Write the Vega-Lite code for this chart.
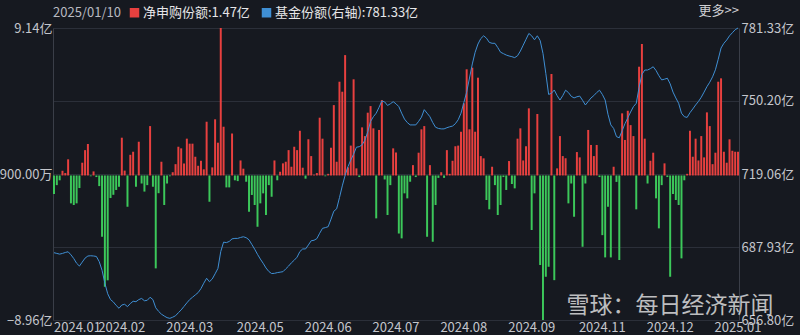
{
  "$schema": "https://vega.github.io/schema/vega-lite/v6.json",
  "width": 686,
  "height": 292,
  "autosize": {"type": "none"},
  "padding": {"left": 53, "top": 28, "right": 61, "bottom": 15},
  "background": "#161920",
  "config": {
    "font": "Noto Sans CJK SC",
    "view": {"stroke": null},
    "axis": {"labelFontSize": 13, "labelColor": "#c4c6cc", "ticks": false, "labelFont": "Noto Sans CJK SC"}
  },
  "title": {"text": "更多>>", "anchor": "end", "frame": "group", "orient": "top", "offset": 2, "dy": 14, "fontSize": 13, "fontWeight": "normal", "color": "#cfd0d4", "font": "Noto Sans CJK SC"},
  "data": {"values": [
    {"date": "2024-01-10", "net": -1.15, "share": 685.5},
    {"date": "2024-01-11", "net": -0.6, "share": 685.2},
    {"date": "2024-01-12", "net": -0.3, "share": 684.9},
    {"date": "2024-01-15", "net": 0.29, "share": 685.2},
    {"date": "2024-01-16", "net": 0.15, "share": 685.6},
    {"date": "2024-01-17", "net": 1.0, "share": 685.9},
    {"date": "2024-01-18", "net": -1.73, "share": 684.6},
    {"date": "2024-01-19", "net": -1.83, "share": 683.0},
    {"date": "2024-01-22", "net": -1.73, "share": 681.0},
    {"date": "2024-01-23", "net": -0.78, "share": 679.8},
    {"date": "2024-01-24", "net": 0.79, "share": 681.5},
    {"date": "2024-01-25", "net": 1.57, "share": 683.2},
    {"date": "2024-01-26", "net": 1.95, "share": 684.1},
    {"date": "2024-01-29", "net": -0.05, "share": 684.2},
    {"date": "2024-01-30", "net": 0.25, "share": 684.1},
    {"date": "2024-01-31", "net": -0.1, "share": 683.9},
    {"date": "2024-02-01", "net": -0.66, "share": 681.7},
    {"date": "2024-02-02", "net": -3.8, "share": 678.0},
    {"date": "2024-02-05", "net": -6.9, "share": 672.5},
    {"date": "2024-02-06", "net": -6.5, "share": 668.0},
    {"date": "2024-02-07", "net": -1.4, "share": 665.5},
    {"date": "2024-02-08", "net": -1.2, "share": 664.5},
    {"date": "2024-02-19", "net": -0.9, "share": 663.0},
    {"date": "2024-02-20", "net": -0.7, "share": 661.8},
    {"date": "2024-02-21", "net": 2.34, "share": 663.2},
    {"date": "2024-02-22", "net": 0.3, "share": 663.5},
    {"date": "2024-02-23", "net": -1.94, "share": 662.5},
    {"date": "2024-02-26", "net": 1.28, "share": 663.8},
    {"date": "2024-02-27", "net": 1.47, "share": 664.8},
    {"date": "2024-02-28", "net": -0.7, "share": 664.6},
    {"date": "2024-02-29", "net": 2.09, "share": 665.5},
    {"date": "2024-03-01", "net": -0.5, "share": 666.0},
    {"date": "2024-03-04", "net": -1.0, "share": 665.0},
    {"date": "2024-03-05", "net": -0.6, "share": 665.2},
    {"date": "2024-03-06", "net": 3.06, "share": 666.5},
    {"date": "2024-03-07", "net": -0.7, "share": 665.5},
    {"date": "2024-03-08", "net": -5.76, "share": 662.0},
    {"date": "2024-03-11", "net": -1.1, "share": 660.5},
    {"date": "2024-03-12", "net": 0.85, "share": 659.3},
    {"date": "2024-03-13", "net": -1.83, "share": 658.5},
    {"date": "2024-03-14", "net": -0.5, "share": 657.8},
    {"date": "2024-03-15", "net": -0.05, "share": 657.5},
    {"date": "2024-03-18", "net": 0.2, "share": 658.0},
    {"date": "2024-03-19", "net": 0.7, "share": 658.6},
    {"date": "2024-03-20", "net": 1.78, "share": 659.9},
    {"date": "2024-03-21", "net": 1.68, "share": 661.1},
    {"date": "2024-03-22", "net": 0.74, "share": 662.6},
    {"date": "2024-03-25", "net": 2.28, "share": 664.1},
    {"date": "2024-03-26", "net": 1.97, "share": 665.5},
    {"date": "2024-03-27", "net": 1.97, "share": 666.5},
    {"date": "2024-03-28", "net": 1.16, "share": 667.5},
    {"date": "2024-03-29", "net": 0.6, "share": 668.5},
    {"date": "2024-04-01", "net": 0.91, "share": 670.2},
    {"date": "2024-04-02", "net": 0.38, "share": 672.5},
    {"date": "2024-04-03", "net": 3.33, "share": 674.6},
    {"date": "2024-04-08", "net": -1.63, "share": 673.1},
    {"date": "2024-04-09", "net": 0.5, "share": 674.3},
    {"date": "2024-04-10", "net": 3.48, "share": 676.5},
    {"date": "2024-04-11", "net": 2.03, "share": 678.8},
    {"date": "2024-04-12", "net": 9.14, "share": 686.0},
    {"date": "2024-04-15", "net": 3.02, "share": 690.0},
    {"date": "2024-04-16", "net": -0.74, "share": 689.8},
    {"date": "2024-04-17", "net": -0.74, "share": 690.3},
    {"date": "2024-04-18", "net": 2.6, "share": 691.4},
    {"date": "2024-04-19", "net": -0.3, "share": 691.6},
    {"date": "2024-04-22", "net": -0.35, "share": 691.6},
    {"date": "2024-04-23", "net": 0.93, "share": 692.0},
    {"date": "2024-04-24", "net": 0.42, "share": 692.3},
    {"date": "2024-04-25", "net": -0.39, "share": 691.9},
    {"date": "2024-04-26", "net": -2.25, "share": 691.0},
    {"date": "2024-04-29", "net": -1.21, "share": 689.0},
    {"date": "2024-04-30", "net": -1.83, "share": 687.0},
    {"date": "2024-05-06", "net": -3.18, "share": 684.8},
    {"date": "2024-05-07", "net": -1.73, "share": 682.8},
    {"date": "2024-05-08", "net": -1.11, "share": 681.0},
    {"date": "2024-05-09", "net": -2.45, "share": 679.0},
    {"date": "2024-05-10", "net": -0.6, "share": 677.5},
    {"date": "2024-05-13", "net": -1.32, "share": 676.6},
    {"date": "2024-05-14", "net": 0.93, "share": 676.7},
    {"date": "2024-05-15", "net": -0.3, "share": 677.0},
    {"date": "2024-05-16", "net": 0.23, "share": 677.2},
    {"date": "2024-05-17", "net": 0.75, "share": 677.4},
    {"date": "2024-05-20", "net": 0.85, "share": 678.6},
    {"date": "2024-05-21", "net": 1.57, "share": 679.8},
    {"date": "2024-05-22", "net": 0.54, "share": 681.2},
    {"date": "2024-05-23", "net": 1.78, "share": 682.3},
    {"date": "2024-05-24", "net": 1.57, "share": 683.6},
    {"date": "2024-05-27", "net": 2.77, "share": 686.0},
    {"date": "2024-05-28", "net": 0.48, "share": 687.1},
    {"date": "2024-05-29", "net": -0.2, "share": 687.1},
    {"date": "2024-05-30", "net": 2.24, "share": 688.8},
    {"date": "2024-05-31", "net": 1.2, "share": 690.6},
    {"date": "2024-06-03", "net": 0.05, "share": 690.8},
    {"date": "2024-06-04", "net": 0.15, "share": 691.5},
    {"date": "2024-06-05", "net": 3.58, "share": 693.8},
    {"date": "2024-06-06", "net": 2.28, "share": 695.9},
    {"date": "2024-06-07", "net": -0.05, "share": 696.2},
    {"date": "2024-06-11", "net": 0.1, "share": 696.6},
    {"date": "2024-06-12", "net": 1.72, "share": 699.8},
    {"date": "2024-06-13", "net": 4.36, "share": 703.2},
    {"date": "2024-06-14", "net": 0.85, "share": 704.2},
    {"date": "2024-06-17", "net": 5.81, "share": 709.0},
    {"date": "2024-06-18", "net": 5.19, "share": 714.0},
    {"date": "2024-06-19", "net": 7.46, "share": 718.5},
    {"date": "2024-06-20", "net": 0.5, "share": 722.2},
    {"date": "2024-06-21", "net": 1.85, "share": 725.0},
    {"date": "2024-06-24", "net": 5.96, "share": 727.5},
    {"date": "2024-06-25", "net": 0.44, "share": 730.5},
    {"date": "2024-06-26", "net": -0.1, "share": 730.7},
    {"date": "2024-06-27", "net": 2.98, "share": 731.5},
    {"date": "2024-06-28", "net": 2.44, "share": 733.5},
    {"date": "2024-07-01", "net": 3.89, "share": 737.0},
    {"date": "2024-07-02", "net": 4.3, "share": 741.5},
    {"date": "2024-07-03", "net": 2.92, "share": 743.5},
    {"date": "2024-07-04", "net": -2.66, "share": 745.0},
    {"date": "2024-07-05", "net": 2.82, "share": 747.5},
    {"date": "2024-07-08", "net": 4.67, "share": 750.2},
    {"date": "2024-07-09", "net": -0.25, "share": 749.8},
    {"date": "2024-07-10", "net": -2.45, "share": 748.3},
    {"date": "2024-07-11", "net": -0.6, "share": 749.0},
    {"date": "2024-07-12", "net": 1.68, "share": 749.9},
    {"date": "2024-07-15", "net": 1.43, "share": 749.0},
    {"date": "2024-07-16", "net": -3.6, "share": 747.8},
    {"date": "2024-07-17", "net": -3.9, "share": 745.0},
    {"date": "2024-07-18", "net": -1.11, "share": 742.5},
    {"date": "2024-07-19", "net": -1.42, "share": 741.0},
    {"date": "2024-07-22", "net": -0.39, "share": 740.0},
    {"date": "2024-07-23", "net": 0.64, "share": 740.0},
    {"date": "2024-07-24", "net": -0.1, "share": 740.0},
    {"date": "2024-07-25", "net": 1.41, "share": 741.5},
    {"date": "2024-07-26", "net": 2.86, "share": 743.3},
    {"date": "2024-07-29", "net": 3.06, "share": 746.5},
    {"date": "2024-07-30", "net": -3.8, "share": 745.0},
    {"date": "2024-07-31", "net": 0.64, "share": 743.5},
    {"date": "2024-08-01", "net": -4.11, "share": 741.0},
    {"date": "2024-08-02", "net": -1.83, "share": 739.0},
    {"date": "2024-08-05", "net": -0.15, "share": 738.5},
    {"date": "2024-08-06", "net": 0.2, "share": 738.3},
    {"date": "2024-08-07", "net": -0.15, "share": 738.3},
    {"date": "2024-08-08", "net": 1.57, "share": 738.8},
    {"date": "2024-08-09", "net": 0.1, "share": 739.2},
    {"date": "2024-08-12", "net": 0.91, "share": 739.5},
    {"date": "2024-08-13", "net": 1.81, "share": 740.5},
    {"date": "2024-08-14", "net": 1.85, "share": 742.2},
    {"date": "2024-08-15", "net": 2.71, "share": 745.0},
    {"date": "2024-08-16", "net": 4.47, "share": 749.5},
    {"date": "2024-08-19", "net": 6.58, "share": 754.0},
    {"date": "2024-08-20", "net": 2.86, "share": 760.0},
    {"date": "2024-08-21", "net": 6.68, "share": 766.0},
    {"date": "2024-08-22", "net": 2.71, "share": 771.0},
    {"date": "2024-08-23", "net": 6.06, "share": 774.5},
    {"date": "2024-08-26", "net": 1.2, "share": 776.8},
    {"date": "2024-08-27", "net": 1.06, "share": 778.0},
    {"date": "2024-08-28", "net": -1.52, "share": 777.0},
    {"date": "2024-08-29", "net": -2.1, "share": 775.2},
    {"date": "2024-08-30", "net": 0.54, "share": 774.8},
    {"date": "2024-09-02", "net": -0.6, "share": 774.8},
    {"date": "2024-09-03", "net": -2.45, "share": 773.0},
    {"date": "2024-09-04", "net": -1.83, "share": 771.0},
    {"date": "2024-09-05", "net": -0.1, "share": 770.4},
    {"date": "2024-09-06", "net": -0.9, "share": 769.8},
    {"date": "2024-09-09", "net": 0.89, "share": 769.4},
    {"date": "2024-09-10", "net": -0.53, "share": 769.1},
    {"date": "2024-09-11", "net": -0.8, "share": 768.7},
    {"date": "2024-09-12", "net": 2.28, "share": 769.5},
    {"date": "2024-09-13", "net": 2.92, "share": 771.5},
    {"date": "2024-09-18", "net": 0.93, "share": 774.0},
    {"date": "2024-09-19", "net": 1.81, "share": 776.5},
    {"date": "2024-09-20", "net": 4.16, "share": 779.0},
    {"date": "2024-09-23", "net": -3.38, "share": 778.0},
    {"date": "2024-09-24", "net": -1.11, "share": 776.3},
    {"date": "2024-09-25", "net": 3.81, "share": 778.0},
    {"date": "2024-09-26", "net": -5.55, "share": 776.0},
    {"date": "2024-09-27", "net": -8.96, "share": 770.5},
    {"date": "2024-09-30", "net": -6.28, "share": 762.0},
    {"date": "2024-10-08", "net": -5.66, "share": 753.0},
    {"date": "2024-10-09", "net": 6.29, "share": 753.5},
    {"date": "2024-10-10", "net": -6.49, "share": 754.9},
    {"date": "2024-10-11", "net": 0.44, "share": 752.5},
    {"date": "2024-10-14", "net": 2.44, "share": 750.6},
    {"date": "2024-10-15", "net": 1.2, "share": 752.5},
    {"date": "2024-10-16", "net": 1.06, "share": 754.8},
    {"date": "2024-10-17", "net": -1.73, "share": 753.8},
    {"date": "2024-10-18", "net": -0.5, "share": 752.2},
    {"date": "2024-10-21", "net": -2.56, "share": 751.5},
    {"date": "2024-10-22", "net": 1.45, "share": 752.0},
    {"date": "2024-10-23", "net": 1.12, "share": 752.3},
    {"date": "2024-10-24", "net": -4.42, "share": 750.5},
    {"date": "2024-10-25", "net": -0.5, "share": 748.5},
    {"date": "2024-10-28", "net": 2.82, "share": 750.0},
    {"date": "2024-10-29", "net": 1.89, "share": 751.5},
    {"date": "2024-10-30", "net": 1.2, "share": 752.5},
    {"date": "2024-10-31", "net": 1.89, "share": 753.8},
    {"date": "2024-11-01", "net": -0.1, "share": 754.8},
    {"date": "2024-11-04", "net": -3.7, "share": 753.0},
    {"date": "2024-11-05", "net": -5.08, "share": 750.6},
    {"date": "2024-11-06", "net": -1.94, "share": 744.5},
    {"date": "2024-11-07", "net": -5.08, "share": 740.0},
    {"date": "2024-11-08", "net": 0.54, "share": 738.5},
    {"date": "2024-11-11", "net": -0.4, "share": 735.0},
    {"date": "2024-11-12", "net": -5.24, "share": 734.5},
    {"date": "2024-11-13", "net": 3.85, "share": 737.5},
    {"date": "2024-11-14", "net": 2.2, "share": 740.5},
    {"date": "2024-11-15", "net": 4.01, "share": 743.0},
    {"date": "2024-11-18", "net": 3.12, "share": 745.5},
    {"date": "2024-11-19", "net": 2.44, "share": 747.8},
    {"date": "2024-11-20", "net": -2.1, "share": 749.2},
    {"date": "2024-11-21", "net": 6.74, "share": 756.0},
    {"date": "2024-11-22", "net": 8.15, "share": 761.5},
    {"date": "2024-11-25", "net": 2.28, "share": 763.4},
    {"date": "2024-11-26", "net": -0.5, "share": 763.4},
    {"date": "2024-11-27", "net": 0.91, "share": 764.0},
    {"date": "2024-11-28", "net": 1.41, "share": 764.8},
    {"date": "2024-11-29", "net": -1.42, "share": 763.2},
    {"date": "2024-12-02", "net": -3.28, "share": 761.0},
    {"date": "2024-12-03", "net": -0.6, "share": 759.2},
    {"date": "2024-12-04", "net": 0.75, "share": 759.5},
    {"date": "2024-12-05", "net": -0.1, "share": 759.9},
    {"date": "2024-12-06", "net": -6.28, "share": 757.5},
    {"date": "2024-12-09", "net": -1.15, "share": 754.0},
    {"date": "2024-12-10", "net": -1.52, "share": 751.5},
    {"date": "2024-12-11", "net": -1.83, "share": 749.2},
    {"date": "2024-12-12", "net": -5.14, "share": 745.0},
    {"date": "2024-12-13", "net": -0.3, "share": 743.5},
    {"date": "2024-12-16", "net": 0.1, "share": 743.2},
    {"date": "2024-12-17", "net": 2.77, "share": 745.2},
    {"date": "2024-12-18", "net": 1.16, "share": 746.8},
    {"date": "2024-12-19", "net": 2.28, "share": 748.5},
    {"date": "2024-12-20", "net": 0.93, "share": 750.0},
    {"date": "2024-12-23", "net": 2.44, "share": 751.8},
    {"date": "2024-12-24", "net": 1.12, "share": 754.0},
    {"date": "2024-12-25", "net": 3.91, "share": 756.3},
    {"date": "2024-12-26", "net": 3.06, "share": 758.2},
    {"date": "2024-12-27", "net": 0.7, "share": 760.5},
    {"date": "2024-12-30", "net": 1.41, "share": 763.5},
    {"date": "2024-12-31", "net": 5.81, "share": 768.0},
    {"date": "2025-01-02", "net": 6.02, "share": 772.8},
    {"date": "2025-01-03", "net": 1.47, "share": 774.8},
    {"date": "2025-01-06", "net": 0.79, "share": 776.2},
    {"date": "2025-01-07", "net": 2.24, "share": 778.0},
    {"date": "2025-01-08", "net": 1.53, "share": 779.3},
    {"date": "2025-01-09", "net": 1.47, "share": 780.6},
    {"date": "2025-01-10", "net": 1.47, "share": 781.33}
  ]},
  "layer": [
    {
      "mark": {"type": "bar"},
      "encoding": {
        "x": {
          "field": "date", "type": "ordinal",
          "scale": {"paddingInner": 0.3, "paddingOuter": 0},
          "axis": {
            "values": ["2024-01-10", "2024-02-21", "2024-03-26", "2024-05-07", "2024-06-11", "2024-07-15", "2024-08-16", "2024-09-23", "2024-11-04", "2024-12-06", "2025-01-10"],
            "labelExpr": "replace(slice(datum.value, 0, 7), '-', '.')",
            "labelAngle": 0,
            "labelFlush": true,
            "labelOverlap": false,
            "labelPadding": 1,
            "domain": false,
            "grid": false,
            "zindex": 1,
            "title": "雪球：每日经济新闻",
            "titleFontSize": 23,
            "titleFontWeight": "normal",
            "titleColor": "#ffffff",
            "titleOpacity": 0.72,
            "titleAlign": "right",
            "titleBaseline": "middle",
            "titleX": 720,
            "titleY": -15
          }
        },
        "y": {
          "field": "net", "type": "quantitative",
          "scale": {"domain": [-8.96, 9.14], "nice": false, "zero": false},
          "axis": {
            "orient": "left",
            "values": [-8.96, 0.09, 9.14],
            "labelExpr": "abs(datum.value) < 1 ? format(datum.value * 10000, '.2f') + '万' : format(datum.value, '.2f') + '亿'",
            "labelPadding": 1,
            "grid": false,
            "domain": true,
            "domainColor": "#3a3e48",
            "title": null
          }
        },
        "color": {
          "condition": {"test": "datum.net < 0", "value": "#3cc85a"},
          "datum": "净申购份额:1.47亿",
          "type": "nominal",
          "scale": {"domain": ["净申购份额:1.47亿", "基金份额(右轴):781.33亿"], "range": ["#e8403f", "#3f8fd4"]},
          "legend": {
            "orient": "none",
            "legendX": 0,
            "legendY": -22,
            "direction": "horizontal",
            "padding": 0,
            "title": "2025/01/10",
            "titleOrient": "left",
            "titleFontSize": 13,
            "titleFontWeight": "normal",
            "titleColor": "#b8bac0",
            "titlePadding": 7,
            "titleBaseline": "middle",
            "labelFontSize": 13,
            "labelColor": "#e6e6e8",
            "labelOffset": 2,
            "columnPadding": 10,
            "symbolType": "square",
            "symbolSize": 90,
            "symbolStrokeWidth": 0,
            "encode": {
              "symbols": {
                "update": {
                  "fill": [
                    {"test": "datum.value === '净申购份额:1.47亿'", "value": {"gradient": "linear", "x1": 0, "y1": 0, "x2": 0, "y2": 1, "stops": [{"offset": 0, "color": "#e8403f"}, {"offset": 0.5, "color": "#e8403f"}, {"offset": 0.5, "color": "#3cc85a"}, {"offset": 1, "color": "#3cc85a"}]}},
                    {"value": "#3f8fd4"}
                  ],
                  "opacity": {"value": 1}
                }
              }
            }
          }
        }
      }
    },
    {
      "mark": {"type": "line", "strokeWidth": 1},
      "encoding": {
        "x": {"field": "date", "type": "ordinal"},
        "y": {
          "field": "share", "type": "quantitative",
          "scale": {"domain": [656.8, 781.33], "nice": false, "zero": false},
          "axis": {
            "orient": "right",
            "values": [656.8, 687.93, 719.06, 750.2, 781.33],
            "labelExpr": "format(datum.value, '.2f') + '亿'",
            "labelPadding": 2,
            "grid": true,
            "gridColor": "#2b2f39",
            "domain": true,
            "domainColor": "#3a3e48",
            "title": null
          }
        },
        "color": {"datum": "基金份额(右轴):781.33亿", "type": "nominal"}
      }
    }
  ],
  "resolve": {"scale": {"y": "independent"}}
}
